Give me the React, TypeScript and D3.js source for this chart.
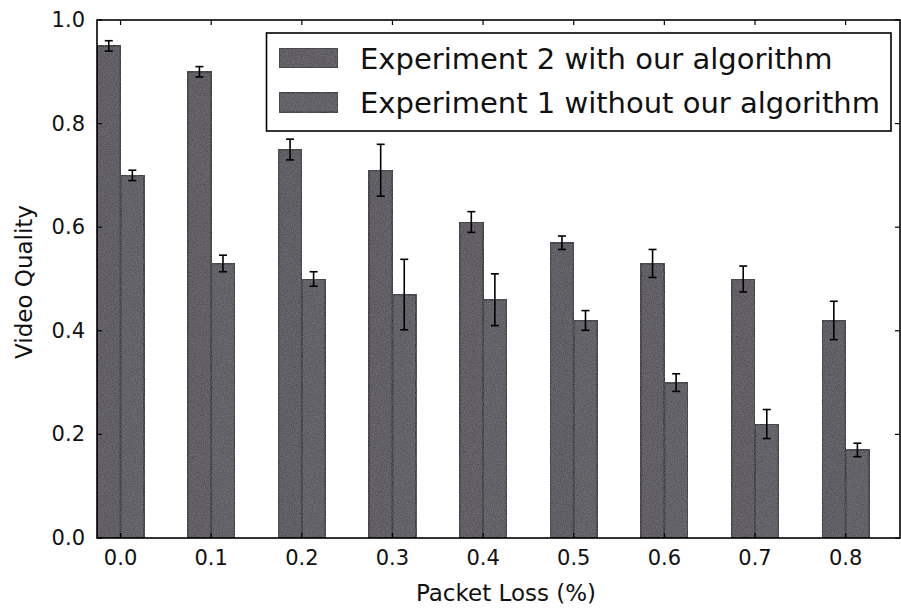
import React from "react";
import * as d3 from "d3";

const categories = ["0.0", "0.1", "0.2", "0.3", "0.4", "0.5", "0.6", "0.7", "0.8"];
const exp2Values = [0.95, 0.9, 0.75, 0.71, 0.61, 0.57, 0.53, 0.5, 0.42];
const exp2Errors = [0.01, 0.01, 0.02, 0.05, 0.02, 0.013, 0.027, 0.025, 0.037];
const exp1Values = [0.7, 0.53, 0.5, 0.47, 0.46, 0.42, 0.3, 0.22, 0.17];
const exp1Errors = [0.01, 0.016, 0.014, 0.068, 0.05, 0.019, 0.017, 0.028, 0.013];
const yTicks = [0, 0.2, 0.4, 0.6, 0.8, 1.0];
const seriesLabels = ["Experiment 2 with our algorithm", "Experiment 1 without our algorithm"];

const W = 901;
const H = 610;
const plot = { left: 97, right: 900, top: 20, bottom: 538 };
const barW = 0.26;
const xMax = 8.86;
const FONT = "'DejaVu Sans', sans-serif";

export default function App() {
  const x = d3.scaleLinear().domain([0, xMax]).range([plot.left, plot.right]);
  const y = d3.scaleLinear().domain([0, 1]).range([plot.bottom, plot.top]);
  const series = [
    { values: exp2Values, errors: exp2Errors, offset: 0, fill: "#46434b", edge: "#0a0a0a" },
    { values: exp1Values, errors: exp1Errors, offset: barW, fill: "#4a4850", edge: "#0a0a1e" },
  ];
  const tickLen = 5;
  const cap = 4;
  return (
    <svg width={W} height={H} style={{ position: "absolute", left: 0, top: 0, background: "#fff" }}>
      <defs>
        <filter id="grain" x="0" y="0" width="100%" height="100%">
          <feTurbulence type="fractalNoise" baseFrequency="0.9" numOctaves="2" seed="3" result="n" />
          <feColorMatrix in="n" type="matrix" values="0 0 0 0 0.55  0 0 0 0 0.55  0 0 0 0 0.58  0 0 0 0.25 0" result="c" />
          <feComposite in="c" in2="SourceGraphic" operator="in" result="m" />
          <feMerge>
            <feMergeNode in="SourceGraphic" />
            <feMergeNode in="m" />
          </feMerge>
        </filter>
      </defs>
      <rect x={0} y={0} width={W} height={H} fill="#fff" />
      {/* bars */}
      {series.map((s, si) =>
        s.values.map((v, i) => (
          <rect
            key={`b${si}-${i}`}
            x={x(i + s.offset)}
            y={y(v)}
            width={x(i + s.offset + barW) - x(i + s.offset)}
            height={y(0) - y(v)}
            fill={s.fill}
            stroke={s.edge}
            strokeWidth={1.8}
            filter="url(#grain)"
          />
        ))
      )}
      {/* error bars */}
      {series.map((s, si) =>
        s.values.map((v, i) => {
          const cx = x(i + s.offset + barW / 2);
          const y1 = y(v + s.errors[i]);
          const y2 = y(v - s.errors[i]);
          return (
            <g key={`e${si}-${i}`} stroke="#000" strokeWidth={1.6}>
              <line x1={cx} x2={cx} y1={y1} y2={y2} />
              <line x1={cx - cap} x2={cx + cap} y1={y1} y2={y1} />
              <line x1={cx - cap} x2={cx + cap} y1={y2} y2={y2} />
            </g>
          );
        })
      )}
      {/* frame */}
      <rect
        x={plot.left}
        y={plot.top}
        width={plot.right - plot.left}
        height={plot.bottom - plot.top}
        fill="none"
        stroke="#000"
        strokeWidth={1.6}
      />
      {/* y ticks */}
      {yTicks.map((t) => (
        <g key={`yt${t}`}>
          <line x1={plot.left} x2={plot.left + tickLen} y1={y(t)} y2={y(t)} stroke="#000" strokeWidth={1.2} />
          <line x1={plot.right} x2={plot.right - tickLen} y1={y(t)} y2={y(t)} stroke="#000" strokeWidth={1.2} />
          <text
            x={85}
            y={y(t)}
            textAnchor="end"
            dominantBaseline="central"
            fontFamily={FONT}
            fontSize={21}
            fill="#111"
          >
            {t.toFixed(1)}
          </text>
        </g>
      ))}
      {/* x ticks */}
      {categories.map((c, i) => (
        <g key={`xt${c}`}>
          <line x1={x(i + barW)} x2={x(i + barW)} y1={plot.top} y2={plot.top + tickLen} stroke="#000" strokeWidth={1.2} />
          <line x1={x(i + barW)} x2={x(i + barW)} y1={plot.bottom} y2={plot.bottom - tickLen} stroke="#000" strokeWidth={1.2} />
          <text x={x(i + barW)} y={565} textAnchor="middle" fontFamily={FONT} fontSize={21} fill="#111">
            {c}
          </text>
        </g>
      ))}
      {/* axis labels */}
      <text x={506} y={601} textAnchor="middle" fontFamily={FONT} fontSize={23} fill="#111">
        Packet Loss (%)
      </text>
      <text
        transform={`translate(32, 282) rotate(-90)`}
        textAnchor="middle"
        fontFamily={FONT}
        fontSize={23}
        fill="#111"
      >
        Video Quality
      </text>
      {/* legend */}
      <rect x={266.5} y={33} width={624.5} height={98} fill="#fff" stroke="#000" strokeWidth={1.6} />
      {seriesLabels.map((lab, i) => (
        <g key={`lg${i}`}>
          <rect
            x={279}
            y={48 + i * 44.5}
            width={59}
            height={20}
            fill={series[i].fill}
            stroke={series[i].edge}
            strokeWidth={1.8}
            filter="url(#grain)"
          />
          <text x={360} y={69 + i * 43.5} fontFamily={FONT} fontSize={29} fill="#111">
            {lab}
          </text>
        </g>
      ))}
    </svg>
  );
}
